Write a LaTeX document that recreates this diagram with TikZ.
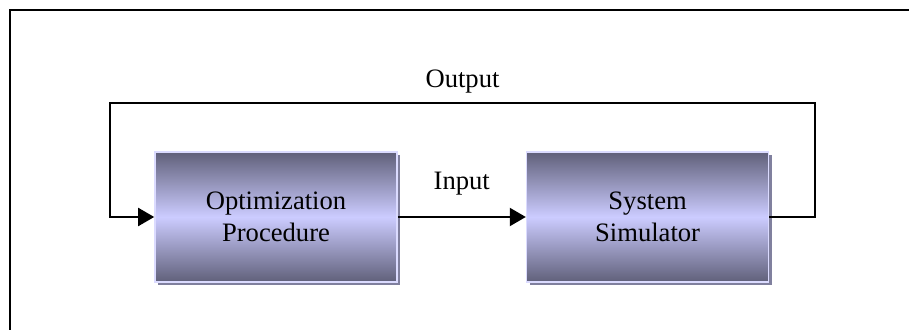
\documentclass[tikz,border=0pt]{standalone}
\usepackage{fontspec}
\setmainfont{Liberation Serif}
\usetikzlibrary{arrows.meta,positioning,shadows}

\definecolor{blockdark}{RGB}{96,96,122}
\definecolor{blocklight}{RGB}{204,204,255}
\definecolor{blockshadow}{RGB}{128,128,158}

\tikzset{
  block/.style={minimum width=121pt, minimum height=65pt, inner sep=0pt,
    align=center, font=\fontsize{13.3}{16}\selectfont,
    top color=blockdark, bottom color=blockdark, middle color=blocklight,
    draw=blocklight!70!white, line width=0.8pt,
    drop shadow={shadow xshift=1.6pt, shadow yshift=-1.6pt, fill=blockshadow, opacity=1}},
  flow/.style={line width=1pt, -{Triangle[length=8pt,width=9pt]}},
  lbl/.style={font=\fontsize{13.3}{16}\selectfont}
}

\begin{document}
\begin{tikzpicture}[x=0.5pt,y=-0.5pt]
            \useasboundingbox (0,0) rectangle (909,330);
            % Frame
            \draw[line width=1pt] (10,330) -- (10,10) -- (909,10);

            % Blocks
            \node[block] (opt) at (276,217) {Optimization\\Procedure};
            \node[block, right=64pt of opt] (sim) {System\\Simulator};

            % Feedback corners
            \coordinate (fbR) at (815,103);
            \coordinate (fbL) at (110,103);

            % Connectors
            \draw[flow] (opt.east) -- (sim.west)
                node[lbl, midway, above=7pt] (in) {Input};
            \draw[flow] (sim.east) -| (fbR) -- (fbL)
                node[lbl, midway, above=1.3pt] (out) {Output}
                |- (opt.west);
\end{tikzpicture}
\end{document}
